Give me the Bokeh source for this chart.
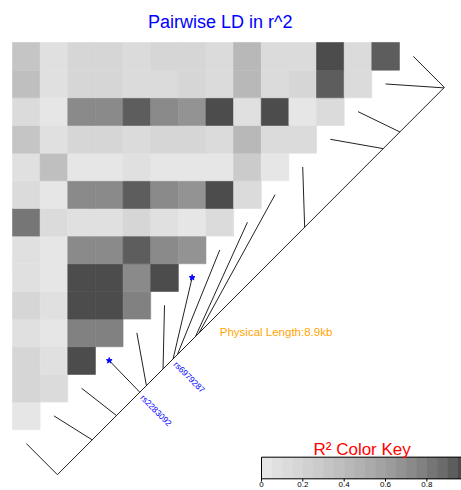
import numpy as np
from bokeh.plotting import figure
from bokeh.models import Range1d
from bokeh.embed import file_html
from bokeh.resources import INLINE
from bokeh.core.properties import value

# ---------------- data ----------------
title_text = "Pairwise LD in r^2"
# physical positions (bp, offset from first SNP) of the 15 SNPs
snp_positions = [0, 800, 1359, 1895, 2047, 2430, 2661, 2759, 3177, 3257,
                 5687, 7494, 7877, 8890, 8900]
highlight_index = [3, 6]
highlight_names = ["rs2283092", "rs6979287"]

# r^2 of SNP i with SNPs 0 .. i-1
r2_snp1 = [0.02]
r2_snp2 = [0.17, 0.12]
r2_snp3 = [0.17, 0.07, 0.98]
r2_snp4 = [0.07, 0.02, 0.77, 0.77]
r2_snp5 = [0.17, 0.07, 0.98, 0.98, 0.77]
r2_snp6 = [0.07, 0.02, 0.98, 0.98, 0.72, 0.98]
r2_snp7 = [0.07, 0.02, 0.72, 0.72, 0.92, 0.72, 0.67]
r2_snp8 = [0.82, 0.12, 0.07, 0.07, 0.17, 0.07, 0.02, 0.12]
r2_snp9 = [0.12, 0.02, 0.72, 0.72, 0.92, 0.72, 0.67, 0.98, 0.12]
r2_snp10 = [0.07, 0.37, 0.02, 0.02, 0.07, 0.02, 0.02, 0.02, 0.27, 0.02]
r2_snp11 = [0.32, 0.07, 0.17, 0.17, 0.12, 0.17, 0.17, 0.12, 0.42, 0.12, 0.12]
r2_snp12 = [0.12, 0.02, 0.72, 0.72, 0.92, 0.72, 0.67, 0.98, 0.07, 0.98, 0.02, 0.12]
r2_snp13 = [0.37, 0.07, 0.17, 0.17, 0.12, 0.12, 0.17, 0.12, 0.42, 0.12, 0.17, 0.92, 0.12]
r2_snp14 = [0.32, 0.07, 0.17, 0.17, 0.12, 0.17, 0.17, 0.12, 0.42, 0.12, 0.12, 0.98, 0.12, 0.92]

key_ticks = [0, 0.2, 0.4, 0.6, 0.8]
key_tick_labels = ["0", "0.2", "0.4", "0.6", "0.8"]

ld_rows = [None, r2_snp1, r2_snp2, r2_snp3, r2_snp4, r2_snp5, r2_snp6, r2_snp7,
           r2_snp8, r2_snp9, r2_snp10, r2_snp11, r2_snp12, r2_snp13, r2_snp14]

# ---------------- palette (like R grey.colors(20), light -> dark) ----------------
ncol = 20
lv = np.linspace(0.3 ** 2.2, 0.9 ** 2.2, ncol) ** (1 / 2.2)
palette = []
for v in lv[::-1]:
    c = int(round(v * 255))
    palette.append("#%02x%02x%02x" % (c, c, c))


def col_for(v):
    b = min(int(v * ncol), ncol - 1)
    return palette[b]


FONT = value("Liberation Sans")

p = figure(width=461, height=490, x_range=Range1d(-0.434, 16.245),
           y_range=Range1d(-1.197, 16.518), output_backend="svg",
           toolbar_location=None, x_axis_type=None, y_axis_type=None,
           min_border=0, outline_line_color=None)
p.background_fill_color = "white"
p.border_fill_color = "white"

# ---------------- heatmap cells ----------------
n = len(snp_positions)
L, R, T, B, C = [], [], [], [], []
for i in range(1, n):
    for j in range(i):
        L.append(j); R.append(j + 1); B.append(i); T.append(i + 1)
        C.append(col_for(ld_rows[i][j]))
p.quad(left=L, right=R, top=T, bottom=B, fill_color=C, line_color=C, line_width=0.6)

# ---------------- gene map ----------------
g = 0.15
sx0, sx1 = 0.5 * g * n + 0.5, n + 0.5 * g * n - 0.5
sy0, sy1 = -0.5 * g * n + 0.5, n - 0.5 * g * n - 0.5
pos = np.array(snp_positions, dtype=float)
t = (pos - pos.min()) / (pos.max() - pos.min())
rx = sx0 + t * (sx1 - sx0)
ry = sy0 + t * (sy1 - sy0)
diag = np.arange(n) + 0.5

p.line([sx0, sx1], [sy0, sy1], line_color="#222222", line_width=1)
p.segment(x0=diag, y0=diag, x1=rx, y1=ry, line_color="#222222", line_width=1)

hx = [diag[k] for k in highlight_index]
p.scatter(x=hx, y=hx, marker="star", size=6, fill_color="blue", line_color="blue")
p.text(x=[rx[k] for k in highlight_index], y=[ry[k] for k in highlight_index],
       text=highlight_names, angle=-np.pi / 4, text_align="left", text_baseline="middle",
       text_font=FONT, text_font_size="8.5px", text_color="blue", x_offset=2, y_offset=4)

length_kb = round((pos.max() - pos.min()) / 1000, 1)
p.text(x=[7.50], y=[4.53], text=["Physical Length:%skb" % length_kb],
       text_align="left", text_baseline="middle", text_font=FONT,
       text_font_size="11.5px", text_color="orange")

# ---------------- title ----------------
p.text(x=[7.514], y=[15.741], text=[title_text], text_align="center",
       text_baseline="middle", text_font=FONT, text_font_size="18px", text_color="blue")

# ---------------- colour key ----------------
kx0, kw = 9.009, 7.478
ky_top, ky_bot = 0.007, -0.774
edges = np.linspace(0, 1, ncol + 1)
p.quad(left=kx0 + edges[:-1] * kw, right=kx0 + edges[1:] * kw, top=ky_top, bottom=ky_bot,
       fill_color=palette, line_color=palette, line_width=0.6)
p.quad(left=[kx0], right=[kx0 + kw], top=[ky_top], bottom=[ky_bot],
       fill_color=None, line_color="black", line_width=1)
kt = kx0 + np.array(key_ticks) * kw
p.segment(x0=kt, y0=ky_bot, x1=kt, y1=ky_bot - 0.10, line_color="black", line_width=1)
p.text(x=kt, y=ky_bot - 0.12, text=key_tick_labels, text_align="center",
       text_baseline="top", text_font=FONT, text_font_size="8px", text_color="black")
p.text(x=[10.89], y=[0.30], text=["R² Color Key"], text_align="left",
       text_baseline="middle", text_font=FONT, text_font_size="17px", text_color="red")

open("out.html", "w").write(file_html(p, INLINE))
